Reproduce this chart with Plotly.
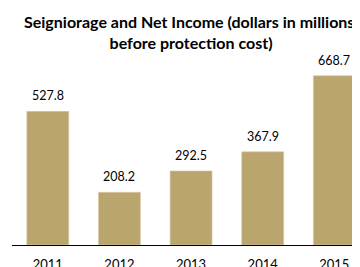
import plotly.graph_objects as go

years = ["2011", "2012", "2013", "2014", "2015"]
values = [527.8, 208.2, 292.5, 367.9, 668.7]
labels = ["527.8", "208.2", "292.5", "367.9", "668.7"]
title_text = "Seigniorage and Net Income (dollars in millions,<br>before protection cost)"

bar_color = "#BBA56E"

fig = go.Figure()
fig.add_trace(go.Bar(
    x=years, y=values,
    marker=dict(color=bar_color, line=dict(color="#D9CCA6", width=0.6)),
    hoverinfo="skip",
))

for i, (v, lab) in enumerate(zip(values, labels)):
    fig.add_annotation(x=i, y=v, text=lab, showarrow=False,
                       xref="x", yref="y",
                       yanchor="bottom", yshift=6,
                       font=dict(family="Lato", size=12.5, color="#000000"))

fig.add_annotation(xref="paper", yref="paper", x=0.503, y=1.27,
                   xanchor="center", yanchor="top", showarrow=False,
                   text="<b>" + title_text + "</b>",
                   font=dict(family="Lato", size=16, color="#000000"))

fig.update_layout(
    width=360, height=267,
    margin=dict(l=4, r=0, t=52, b=30),
    paper_bgcolor="white", plot_bgcolor="white",
    bargap=0.414,
    showlegend=False,
    xaxis=dict(
        type="category",
        range=[-0.5, 4.47],
        automargin=False,
        showline=True, linecolor="#000000", linewidth=1,
        showgrid=False, zeroline=False,
        ticks="", ticklabelstandoff=7,
        tickfont=dict(family="Lato", size=13, color="#000000"),
    ),
    yaxis=dict(
        range=[0, 730.6],
        visible=False,
    ),
)

fig.write_html("out.html")
